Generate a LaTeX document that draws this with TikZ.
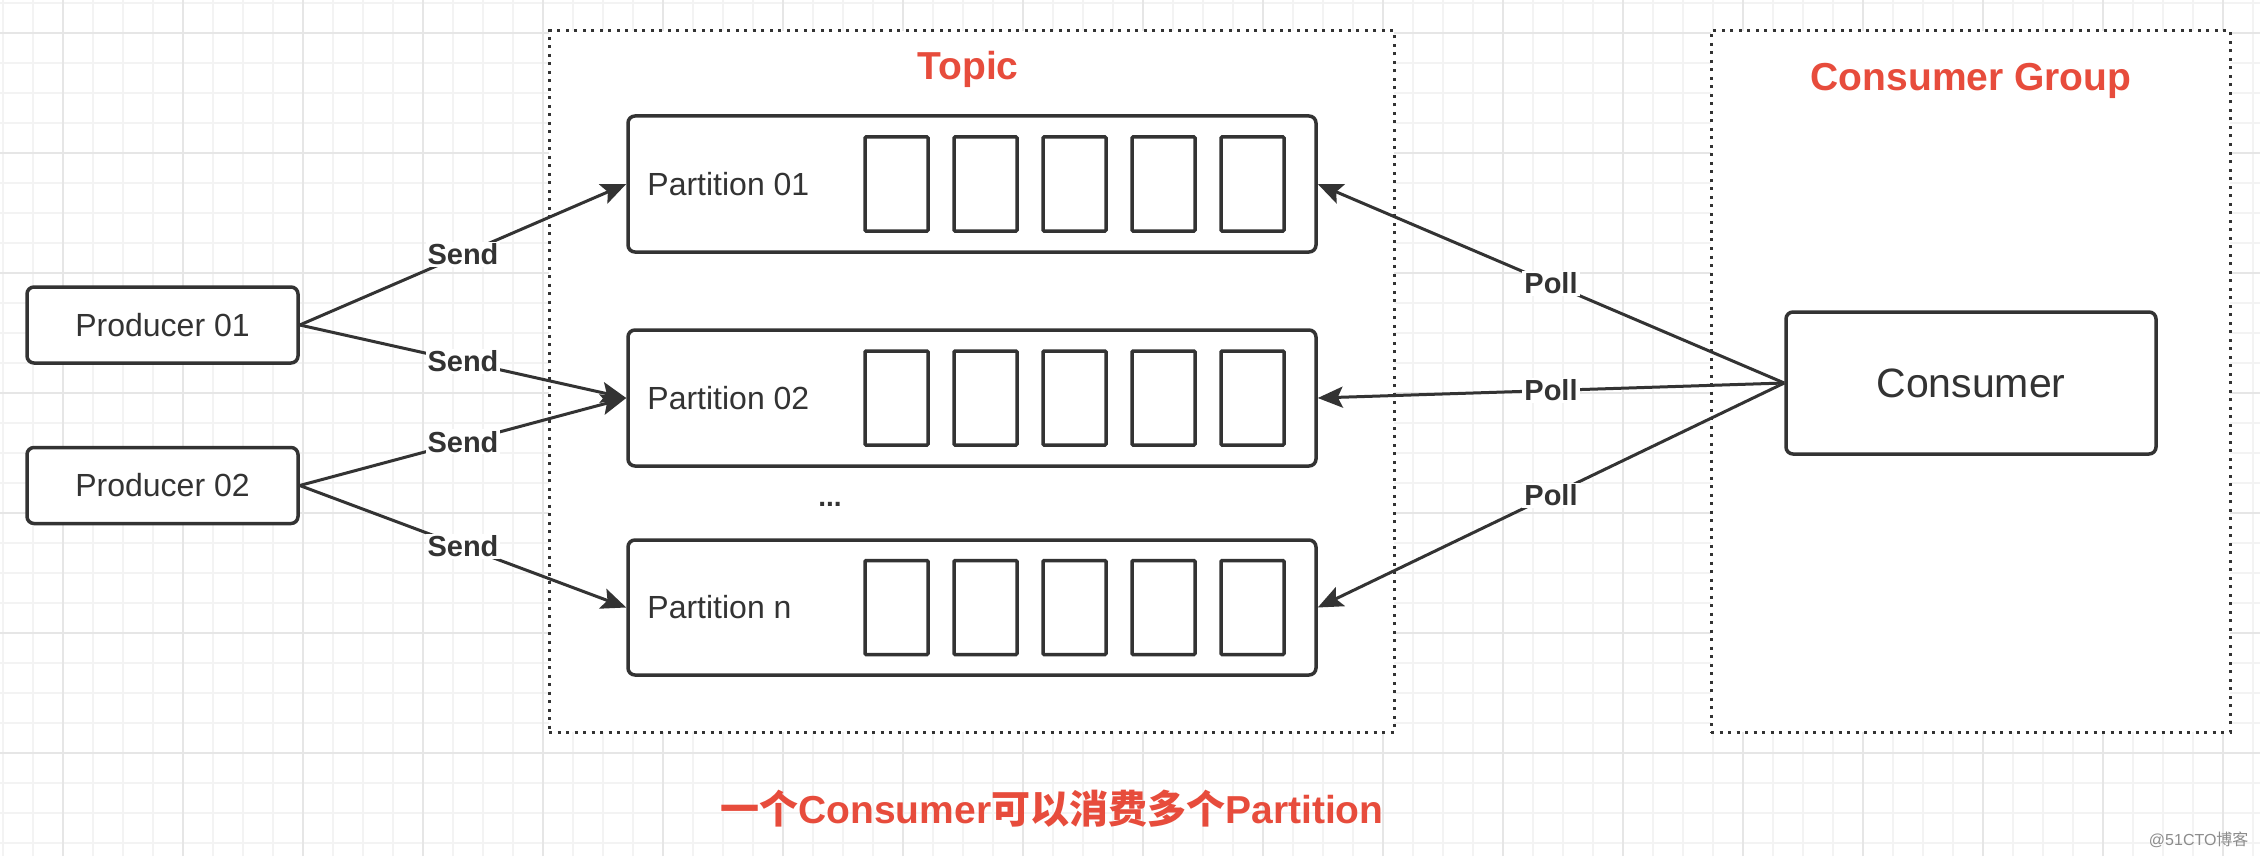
\documentclass[tikz,border=0pt]{standalone}
\usepackage{fontspec}
\setmainfont{Liberation Sans}
\newfontfamily\cjk{Noto Sans CJK SC}
\usetikzlibrary{arrows.meta, calc}

\definecolor{ink}{HTML}{333333}
\definecolor{alert}{HTML}{E74C3C}
\definecolor{gridfine}{HTML}{F3F3F3}
\definecolor{gridmajor}{HTML}{E6E6E6}

\tikzset{
  box/.style={draw=ink, line width=3.5pt, rounded corners=7pt, fill=white, text=ink,
    font=\fontsize{32}{36}\selectfont},
  cell/.style={draw=ink, line width=3.5pt, rounded corners=1pt, minimum width=63pt, minimum height=94pt},
  group/.style={draw=ink, line width=3pt, dash pattern=on 3pt off 5.5pt, fill=white},
  tag/.style={fill=white, text=ink, inner sep=2pt, font=\fontsize{29}{32}\selectfont\bfseries},
  link/.style={draw=ink, line width=3pt, ->},
  title/.style={text=alert, anchor=base, font=\fontsize{39}{44}\selectfont\bfseries},
  partlabel/.style={anchor=west, inner sep=0pt, text=ink, font=\fontsize{32}{36}\selectfont}
}

\begin{document}
\begin{tikzpicture}[x=1pt,y=-1pt,>={Stealth[length=25pt,width=21pt,inset=5pt]}]
\useasboundingbox (0,0) rectangle (2260,856);
\fill[white] (0,0) rectangle (2260,856);

% background grid
\foreach \x in {3,33,...,2260} \draw[gridfine, line width=1.5pt] (\x,0) -- (\x,856);
\foreach \y in {3,33,...,856} \draw[gridfine, line width=1.5pt] (0,\y) -- (2260,\y);
\foreach \x in {63,183,...,2260} \draw[gridmajor, line width=2pt] (\x,0) -- (\x,856);
\foreach \y in {33,153,...,856} \draw[gridmajor, line width=2pt] (0,\y) -- (2260,\y);

% groups
\node[group, minimum width=845pt, minimum height=701pt] (topic) at (971.5,381.5) {};
\node[group, minimum width=519pt, minimum height=701pt] (cgroup) at (1970.5,381.5) {};
\node[title] (topictitle) at (968,80) {Topic};
\node[title] (cgtitle) at (1971,91) {Consumer Group};

% partitions
\node[box, minimum width=688pt, minimum height=136pt] (p1) at (972,184) {};
\node[box, minimum width=688pt, minimum height=136pt] (p2) at (972,398) {};
\node[box, minimum width=688pt, minimum height=135pt] (pn) at (972,607.5) {};
\node[partlabel] (p1label) at ([xshift=21pt]p1.west) {Partition 01};
\node[partlabel] (p2label) at ([xshift=21pt]p2.west) {Partition 02};
\node[partlabel] (pnlabel) at ([xshift=21pt]pn.west) {Partition n};
\foreach \p in {p1,p2,pn}
  \foreach \i in {0,...,4}
    \node[cell] (\p cell\i) at ($(\p.center)+({-75.5+89*\i},0)$) {};
\node[anchor=base, text=ink, font=\fontsize{28}{30}\selectfont\bfseries] (dots) at (830,506) {...};

% producers and consumer
\node[box, minimum width=271pt, minimum height=76pt] (prod1) at (162.5,325) {Producer 01};
\node[box, minimum width=271pt, minimum height=76pt] (prod2) at (162.5,485.5) {Producer 02};
\node[box, minimum width=370pt, minimum height=142pt, font=\fontsize{41}{46}\selectfont] (cons) at (1971,383) {Consumer};

% send / poll
\draw[link] (prod1.east) -- node[tag] {Send} (p1.west);
\draw[link] (prod1.east) -- node[tag] {Send} (p2.west);
\draw[link] (prod2.east) -- node[tag] {Send} (p2.west);
\draw[link] (prod2.east) -- node[tag] {Send} (pn.west);
\draw[link] (cons.west) -- node[tag] {Poll} (p1.east);
\draw[link] (cons.west) -- node[tag] {Poll} (p2.east);
\draw[link] (cons.west) -- node[tag] {Poll} (pn.east);

\node[title] (note) at (1052,823) {{\cjk 一个}Consumer{\cjk 可以消费多个}Partition};
\node[anchor=base east, text=black!45, font=\fontsize{16}{18}\selectfont] (mark) at (2252,845) {@51CTO{\cjk 博客}};
\end{tikzpicture}
\end{document}
